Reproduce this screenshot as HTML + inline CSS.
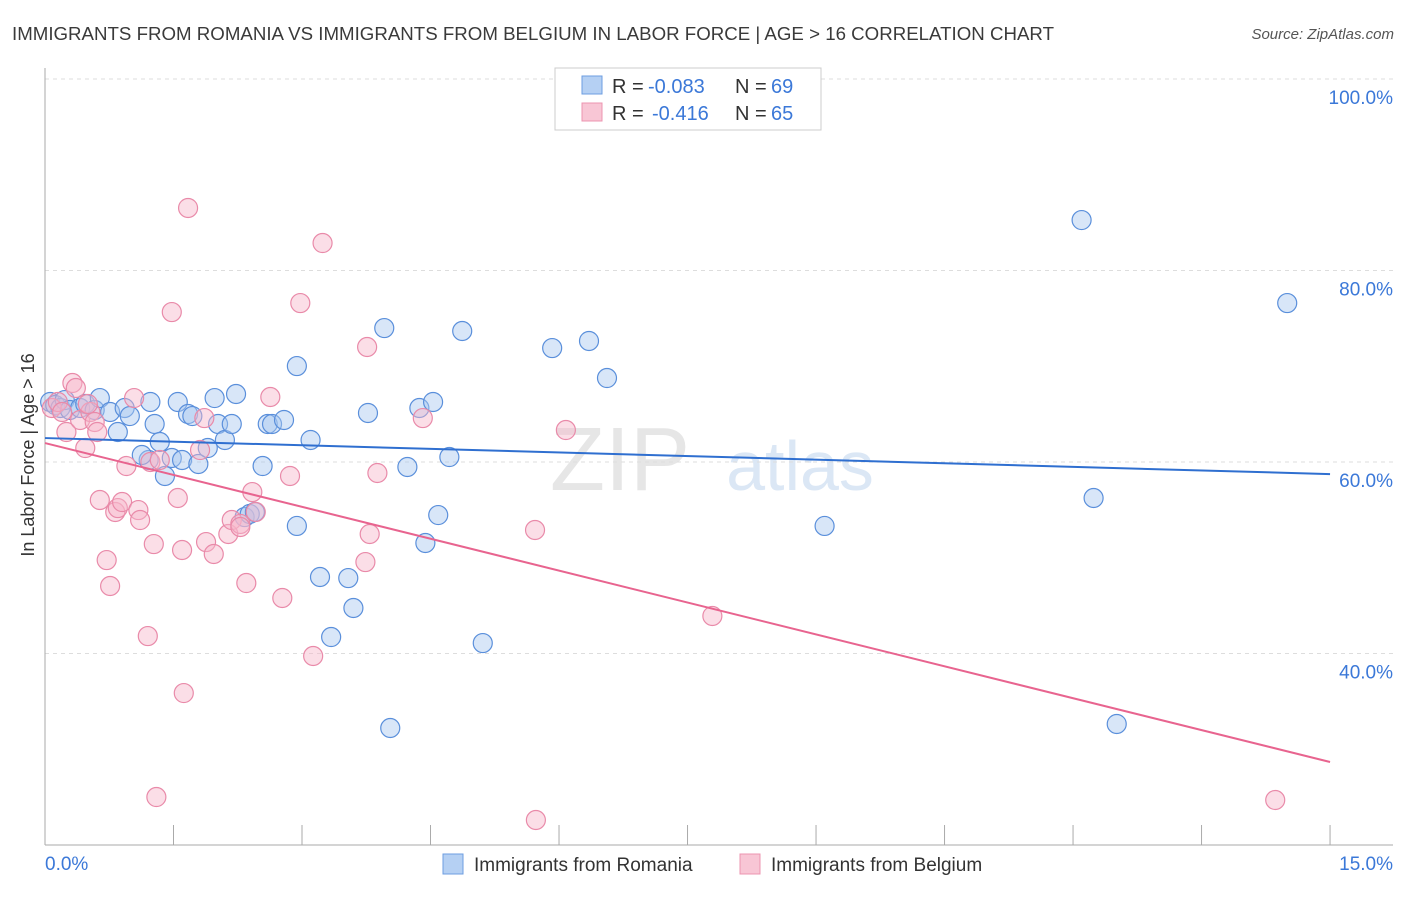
<!DOCTYPE html>
<html><head><meta charset="utf-8"><style>
body{margin:0;background:#fff;font-family:"Liberation Sans",sans-serif}
svg text{font-family:"Liberation Sans",sans-serif}
</style></head><body>
<svg id="c" width="1406" height="892">
<text x="12" y="40" font-size="18" fill="#3a3a3a" textLength="1042" lengthAdjust="spacingAndGlyphs">IMMIGRANTS FROM ROMANIA VS IMMIGRANTS FROM BELGIUM IN LABOR FORCE | AGE &gt; 16 CORRELATION CHART</text>
<text x="1394" y="39" font-size="15" fill="#555" text-anchor="end" font-style="italic">Source: ZipAtlas.com</text>
<text x="620" y="490" font-size="90" fill="#e6e6e6" font-family="Liberation Serif" text-anchor="middle">ZIP</text>
<text x="800" y="490" font-size="70" fill="#dbe7f5" text-anchor="middle">atlas</text>
<g id="grid"></g><g id="pts"></g><g id="lines"></g>
<text x="34" y="455" font-size="18" fill="#333" text-anchor="middle" transform="rotate(-90 34 455)">In Labor Force | Age &gt; 16</text>
<g>
<rect x="555" y="68" width="266" height="62" fill="#fff" stroke="#ccc"/>
<rect x="582" y="76" width="20" height="18" fill="#b5d0f3" stroke="#6d9ee0"/>
<text x="612" y="93" font-size="20" fill="#333">R =</text>
<text x="648" y="93" font-size="20" fill="#3b78d8">-0.083</text>
<text x="735" y="93" font-size="20" fill="#333">N =</text>
<text x="771" y="93" font-size="20" fill="#3b78d8">69</text>
<rect x="582" y="103" width="20" height="18" fill="#f8c6d5" stroke="#ec94b0"/>
<text x="612" y="120" font-size="20" fill="#333">R =</text>
<text x="652" y="120" font-size="20" fill="#3b78d8">-0.416</text>
<text x="735" y="120" font-size="20" fill="#333">N =</text>
<text x="771" y="120" font-size="20" fill="#3b78d8">65</text>
</g>
<g>
<rect x="443" y="854" width="20" height="20" fill="#b5d0f3" stroke="#6d9ee0"/>
<text x="474" y="871" font-size="19" fill="#333">Immigrants from Romania</text>
<rect x="740" y="854" width="20" height="20" fill="#f8c6d5" stroke="#ec94b0"/>
<text x="771" y="871" font-size="19" fill="#333">Immigrants from Belgium</text>
</g>
</svg>
<script>
const blueX=[.06,.12,.18,.23,.29,.41,.47,.58,.64,.76,.85,.93,.99,1.23,1.28,1.34,1.40,1.48,1.55,1.60,1.67,1.72,1.79,1.90,1.98,2.02,2.10,2.18,2.23,2.54,2.60,2.65,2.79,2.94,2.94,3.10,3.21,3.34,3.54,3.60,3.77,3.96,4.03,4.23,4.37,4.44,4.53,4.59,4.72,4.87,5.11,5.92,6.35,6.56,9.10,12.10,12.24,12.51,14.50,2.33,2.39,2.45,1.21,1.13];
const blueY=[66.27,65.95,65.64,66.47,65.43,65.64,66.06,65.43,66.68,65.22,63.13,65.64,64.8,66.27,63.97,62.09,58.54,60.42,66.27,60.21,65.01,64.8,59.79,61.46,66.68,63.97,62.30,63.97,67.10,59.58,63.97,63.97,64.39,70.02,53.32,62.30,47.99,41.72,47.88,44.75,65.12,73.99,32.22,59.48,65.64,51.54,66.27,54.46,60.52,73.68,41.09,71.90,72.64,68.77,53.32,85.27,56.24,32.64,76.60,54.25,54.57,54.78,60.21,60.73];
const pinkX=[.08,.15,.20,.25,.32,.36,.41,.47,.53,.58,.61,.64,.72,.76,.82,.85,.90,.95,1.04,1.09,1.11,1.20,1.23,1.27,1.30,1.34,1.48,1.55,1.60,1.62,1.67,1.81,1.86,1.88,1.97,2.14,2.18,2.28,2.35,2.42,2.46,2.63,2.77,2.86,2.98,3.13,3.24,3.74,3.76,3.79,3.88,4.41,5.72,5.73,6.08,7.79,14.36,2.28,.50];
const pinkY=[65.64,66.27,65.22,63.13,68.25,67.73,64.39,61.46,65.22,64.18,63.13,56.03,49.76,47.05,54.78,55.19,55.82,59.58,66.68,54.98,53.94,41.82,60.0,51.43,25.01,60.21,75.66,56.24,50.81,35.87,86.53,61.25,64.59,51.64,50.39,52.48,53.94,53.53,47.36,56.86,54.78,66.79,45.8,58.54,76.60,39.74,82.87,49.55,72.01,52.48,58.85,64.59,52.90,22.61,63.34,43.92,24.70,53.21,66.06];
const blueTrend=[62.5,58.74];
const pinkTrend=[61.98,28.67];
const yTicks=[100,80,60,40];
const yTickLabels=["100.0%","80.0%","60.0%","40.0%"];
const xTickCount=10;
const xEndLabels=["0.0%","15.0%"];
const NS="http://www.w3.org/2000/svg";
const sx=v=>45+v*85.67, sy=v=>462-(v-60)*9.575;
function mk(t,a,p){const e=document.createElementNS(NS,t);for(const k in a)e.setAttribute(k,a[k]);p.appendChild(e);return e;}
const g=document.getElementById('grid'),pts=document.getElementById('pts'),ln=document.getElementById('lines');
yTicks.forEach((v,i)=>{
 const l=mk('line',{x1:45,x2:1393,y1:sy(v),y2:sy(v),stroke:'#ddd','stroke-dasharray':'4,4'},g);
 
 
 const t=mk('text',{x:1393,y:sy(v)+25,'font-size':19,fill:'#3b78d8','text-anchor':'end'},g);
 t.textContent=yTickLabels[i];
 
 
});
mk('line',{x1:45,x2:45,y1:68,y2:845,stroke:'#aaa'},g);
mk('line',{x1:45,x2:1393,y1:845,y2:845,stroke:'#aaa'},g);
for(let i=0;i<=xTickCount;i++){const x=sx(i*1.5);const t=mk('line',{x1:x,x2:x,y1:825,y2:845,stroke:'#aaa'},g);
 
 }
const xl0=mk('text',{x:45,y:870,'font-size':19,fill:'#3b78d8'},g);xl0.textContent=xEndLabels[0];


const xl1=mk('text',{x:1393,y:870,'font-size':19,fill:'#3b78d8','text-anchor':'end'},g);xl1.textContent=xEndLabels[1];


function dots(X,Y,fill,stroke,name){X.forEach((x,i)=>{const c=mk('circle',{cx:sx(x),cy:sy(Y[i]),r:9.5,fill:fill,'fill-opacity':.45,stroke:stroke,'stroke-width':1.2},pts);
 
 });}
dots(blueX,blueY,'#a9c7f0','#5a8fdb','romania-point');
dots(pinkX,pinkY,'#f6b6ca','#e98aa9','belgium-point');
const bl=mk('line',{x1:sx(0),x2:sx(15),y1:sy(blueTrend[0]),y2:sy(blueTrend[1]),stroke:'#2f6fd0','stroke-width':2},ln);


const pl=mk('line',{x1:sx(0),x2:sx(15),y1:sy(pinkTrend[0]),y2:sy(pinkTrend[1]),stroke:'#e8648f','stroke-width':2},ln);


</script>
</body></html>
